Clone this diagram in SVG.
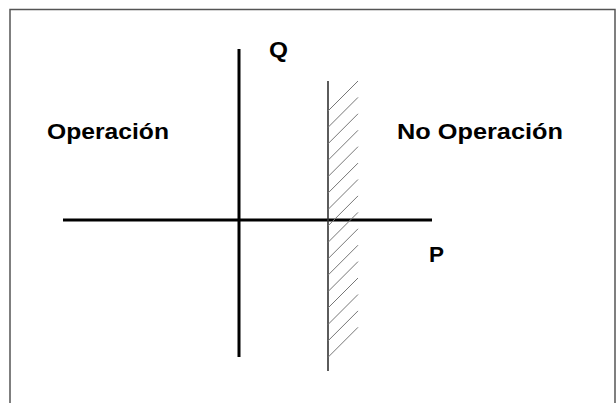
<svg xmlns="http://www.w3.org/2000/svg" width="616" height="403" viewBox="0 0 616 403">
<style>
.t{font-family:"Liberation Sans",Arial,sans-serif;font-weight:bold;font-size:22px;fill:#000}
.ax{stroke:#000;stroke-width:3;fill:none}
.lim{stroke:#333;stroke-width:1.6;fill:none}
.h{stroke:#777;stroke-width:1;fill:none}
</style>
<rect x="0" y="0" width="616" height="403" fill="#fff"/>
<rect x="10" y="9.5" width="605" height="400" fill="none" stroke="#555" stroke-width="1.5"/>
<g id="connectors">
<line id="axisP" class="ax" x1="63" y1="220" x2="432" y2="220"/>
<line id="axisQ" class="ax" x1="239" y1="49" x2="239" y2="357"/>
<line id="limit" class="lim" x1="328" y1="81" x2="328" y2="371"/>
<g id="hatch" class="h">
<line x1="328" y1="111" x2="358" y2="81"/>
<line x1="328" y1="127.4" x2="358" y2="97.4"/>
<line x1="328" y1="143.8" x2="358" y2="113.8"/>
<line x1="328" y1="160.3" x2="358" y2="130.3"/>
<line x1="328" y1="176.7" x2="358" y2="146.7"/>
<line x1="328" y1="193.1" x2="358" y2="163.1"/>
<line x1="328" y1="209.5" x2="358" y2="179.5"/>
<line x1="328" y1="225.9" x2="358" y2="195.9"/>
<line x1="328" y1="242.4" x2="358" y2="212.4"/>
<line x1="328" y1="258.8" x2="358" y2="228.8"/>
<line x1="328" y1="275.2" x2="358" y2="245.2"/>
<line x1="328" y1="291.6" x2="358" y2="261.6"/>
<line x1="328" y1="308" x2="358" y2="278"/>
<line x1="328" y1="324.5" x2="358" y2="294.5"/>
<line x1="328" y1="340.9" x2="358" y2="310.9"/>
<line x1="328" y1="357.3" x2="358" y2="327.3"/>
</g>
</g>
<g id="labelQ"><text class="t" x="269" y="57" textLength="19" lengthAdjust="spacingAndGlyphs">Q</text></g>
<g id="labelP"><text class="t" x="429" y="262" textLength="15" lengthAdjust="spacingAndGlyphs">P</text></g>
<g id="operacion"><text class="t" x="47" y="139" textLength="122" lengthAdjust="spacingAndGlyphs">Operación</text></g>
<g id="noOperacion"><text class="t" x="397" y="139" textLength="166" lengthAdjust="spacingAndGlyphs">No Operación</text></g>
</svg>
